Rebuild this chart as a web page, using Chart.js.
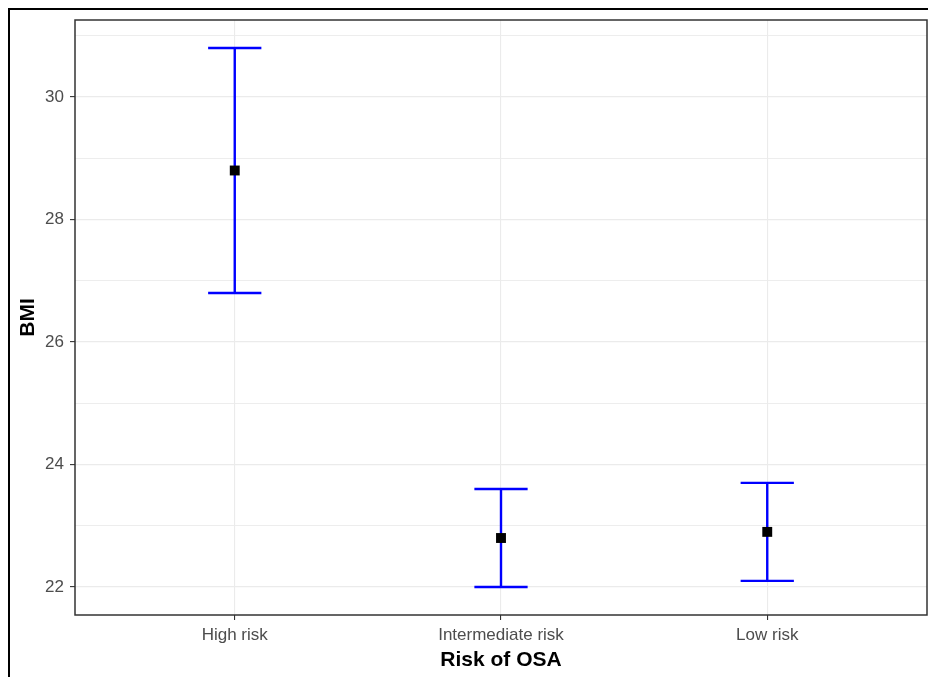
<!DOCTYPE html>
<html>
<head>
<meta charset="utf-8">
<script src="https://cdn.jsdelivr.net/npm/chart.js@4"></script>
<style>
  body { margin: 0; background: #fff; }
  canvas { display: block; }
</style>
</head>
<body>
<canvas id="bmiChart" width="928" height="677"></canvas>
<script>
// data
const categories = ['High risk', 'Intermediate risk', 'Low risk'];
const bmiMean = [28.8, 22.8, 22.9];
const bmiLower = [26.8, 22.0, 22.1];
const bmiUpper = [30.8, 23.6, 23.7];
const yTickLabels = [22, 24, 26, 28, 30];

const font = 'Liberation Sans, Arial, sans-serif';

// error bars (drawn under the points) + panel border + outer frame
const errorBars = {
  id: 'errorBars',
  beforeDatasetsDraw(chart) {
    const { ctx, scales: { x, y } } = chart;
    ctx.save();
    ctx.strokeStyle = '#0000FF';
    ctx.lineWidth = 2.4;
    categories.forEach((c, i) => {
      const px = x.getPixelForValue(i + 1);
      const left = x.getPixelForValue(i + 0.9);
      const right = x.getPixelForValue(i + 1.1);
      const lo = y.getPixelForValue(bmiLower[i]);
      const hi = y.getPixelForValue(bmiUpper[i]);
      ctx.beginPath();
      ctx.moveTo(px, lo); ctx.lineTo(px, hi);
      ctx.moveTo(left, lo); ctx.lineTo(right, lo);
      ctx.moveTo(left, hi); ctx.lineTo(right, hi);
      ctx.stroke();
    });
    ctx.restore();
  },
  afterDraw(chart) {
    const { ctx, chartArea: a } = chart;
    ctx.save();
    ctx.strokeStyle = '#333333';
    ctx.lineWidth = 1.5;
    ctx.strokeRect(a.left, a.top, a.right - a.left, a.bottom - a.top);
    ctx.strokeStyle = '#000';
    ctx.lineWidth = 2;
    ctx.strokeRect(9, 9, 940, 700);
    ctx.restore();
  }
};

new Chart(document.getElementById('bmiChart'), {
  type: 'scatter',
  data: {
    datasets: [{
      data: bmiMean.map((v, i) => ({ x: i + 1, y: v })),
      pointStyle: 'rect',
      pointRadius: 7,
      pointHoverRadius: 7,
      backgroundColor: '#000',
      borderColor: '#000',
      borderWidth: 0
    }]
  },
  options: {
    responsive: false,
    animation: false,
    events: [],
    layout: { autoPadding: false, padding: { left: 0, top: 20, right: 1, bottom: 0 } },
    plugins: { legend: { display: false }, tooltip: { enabled: false } },
    scales: {
      x: {
        type: 'linear',
        min: 0.4,
        max: 3.6,
        afterBuildTicks(scale) {
          scale.ticks = categories.map((c, i) => ({ value: i + 1 }));
        },
        afterFit(scale) {
          scale.height = 62;
          scale.paddingLeft = 0;
          scale.paddingRight = 0;
        },
        border: { display: false },
        grid: {
          color: '#EBEBEB',
          lineWidth: 1.1,
          tickColor: '#333333',
          tickLength: 5,
          tickWidth: 1.1
        },
        ticks: {
          autoSkip: false,
          maxRotation: 0,
          padding: 5,
          color: '#4D4D4D',
          font: { family: font, size: 17 },
          callback: (v) => categories[v - 1]
        },
        title: {
          display: true,
          text: 'Risk of OSA',
          color: '#000',
          padding: { top: 0, bottom: 4 },
          font: { family: font, size: 21, weight: 'bold' }
        }
      },
      y: {
        min: 21.543,
        max: 31.257,
        afterBuildTicks(scale) {
          scale.ticks = [22, 23, 24, 25, 26, 27, 28, 29, 30, 31].map(v => ({ value: v }));
        },
        afterFit(scale) {
          scale.width = 75;
          scale.paddingTop = 0;
          scale.paddingBottom = 0;
        },
        border: { display: false },
        grid: {
          color: '#EBEBEB',
          lineWidth: (ctx) => (ctx.tick && yTickLabels.includes(ctx.tick.value)) ? 1.2 : 0.9,
          tickColor: (ctx) => (ctx.tick && yTickLabels.includes(ctx.tick.value)) ? '#333333' : 'rgba(0,0,0,0)',
          tickLength: 5,
          tickWidth: 1.1
        },
        ticks: {
          autoSkip: false,
          padding: 6,
          color: '#4D4D4D',
          font: { family: font, size: 17 },
          callback: (v) => yTickLabels.includes(v) ? String(v) : ''
        },
        title: {
          display: true,
          text: 'BMI',
          color: '#000',
          padding: { top: 16, bottom: 0 },
          font: { family: font, size: 21, weight: 'bold' }
        }
      }
    }
  },
  plugins: [errorBars]
});
</script>
</body>
</html>
